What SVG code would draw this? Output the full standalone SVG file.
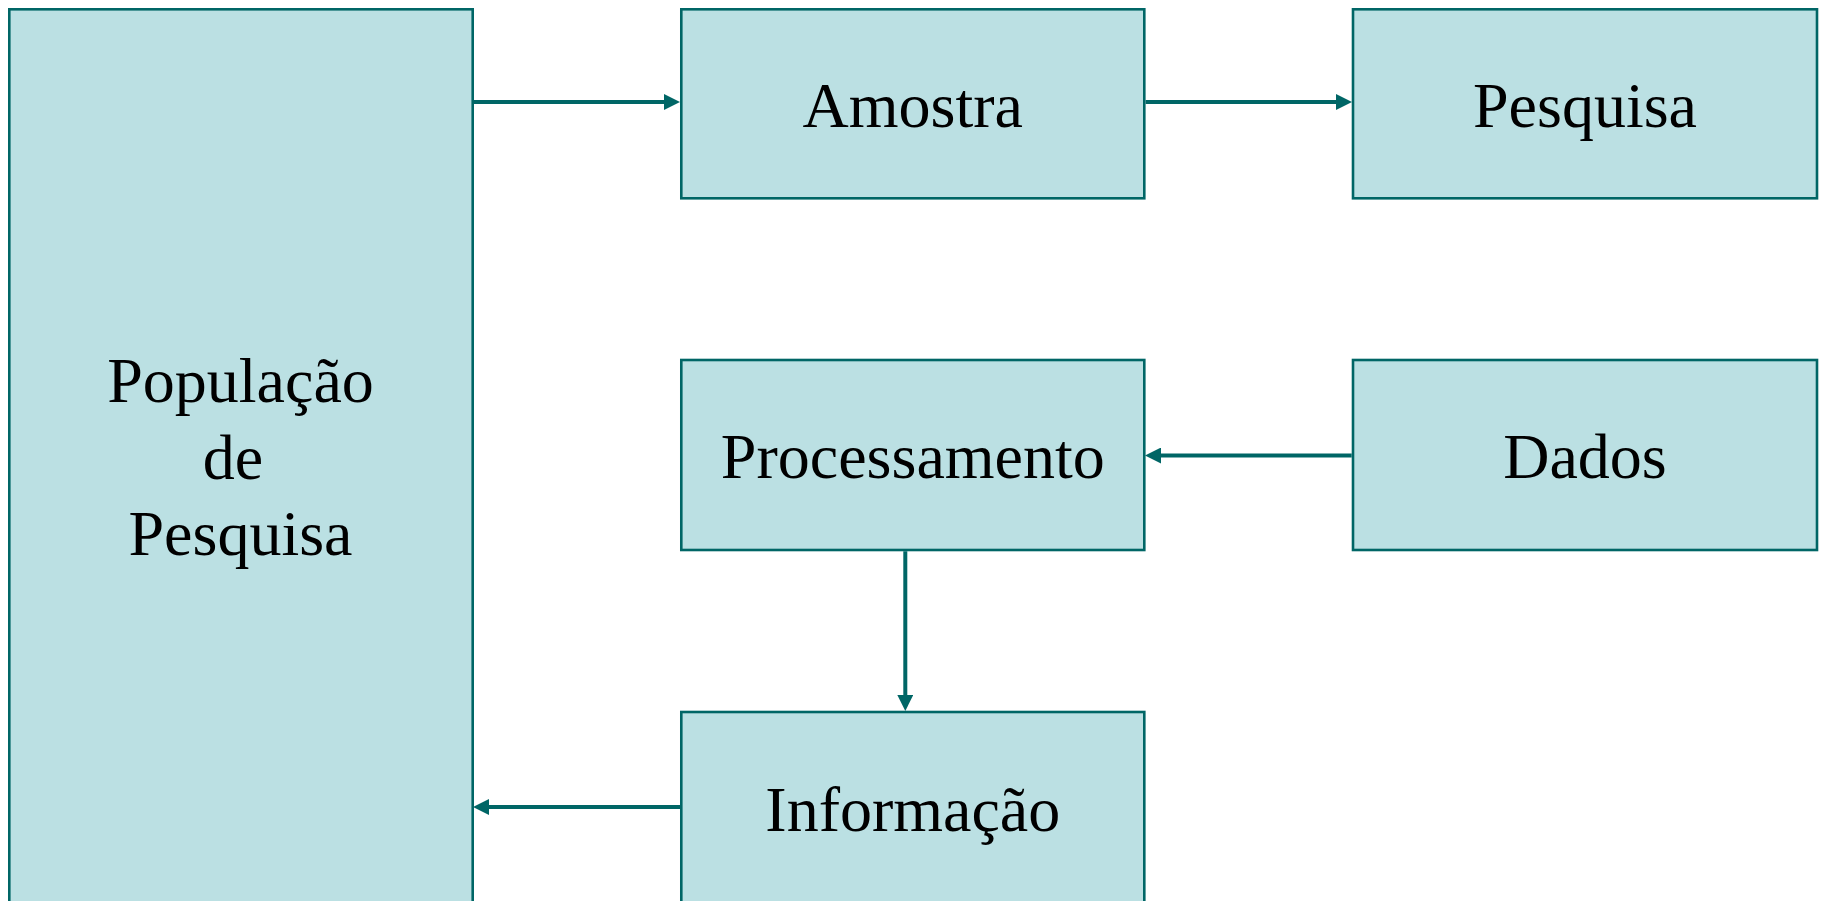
<svg xmlns="http://www.w3.org/2000/svg" width="1823" height="901" viewBox="0 0 1823 901">
  <style>
    .box { fill: #BBE0E3; stroke: #006666; stroke-width: 2.6; }
    .label { font-family: "Liberation Serif", "Times New Roman", serif; font-size: 64px; fill: #000000; text-anchor: middle; }
    .link { stroke: #006666; stroke-width: 4; fill: none; marker-end: url(#head); }
  </style>
  <defs>
    <marker id="head" markerUnits="userSpaceOnUse" markerWidth="16" markerHeight="16" refX="0" refY="8" orient="auto" viewBox="0 0 16 16">
      <path d="M0,0 L16,8 L0,16 Z" fill="#006666"/>
    </marker>
  </defs>
  <rect width="1823" height="901" fill="#ffffff"/>

  <g id="populacao">
    <rect class="box" x="9.3" y="9.3" width="463.4" height="1000"/>
    <text class="label" x="240.5" y="402">População</text>
    <text class="label" x="233" y="479">de</text>
    <text class="label" x="240.5" y="555">Pesquisa</text>
  </g>

  <g id="amostra">
    <rect class="box" x="681.3" y="9.3" width="463" height="189"/>
    <text class="label" x="912.8" y="127">Amostra</text>
  </g>

  <g id="pesquisa">
    <rect class="box" x="1353" y="9.3" width="464" height="189"/>
    <text class="label" x="1585" y="127">Pesquisa</text>
  </g>

  <g id="processamento">
    <rect class="box" x="681.3" y="360" width="463" height="190"/>
    <text class="label" x="912.8" y="478">Processamento</text>
  </g>

  <g id="dados">
    <rect class="box" x="1353" y="360" width="464" height="190"/>
    <text class="label" x="1585" y="478">Dados</text>
  </g>

  <g id="informacao">
    <rect class="box" x="681.3" y="712" width="463" height="300"/>
    <text class="label" x="912.8" y="831">Informação</text>
  </g>

  <g id="connectors">
    <line class="link" x1="474" y1="102" x2="664" y2="102"/>
    <line class="link" x1="1145.6" y1="102" x2="1336" y2="102"/>
    <line class="link" x1="1351.7" y1="455.5" x2="1161" y2="455.5"/>
    <line class="link" x1="905.3" y1="551.3" x2="905.3" y2="695"/>
    <line class="link" x1="680" y1="807" x2="489" y2="807"/>
  </g>
</svg>
